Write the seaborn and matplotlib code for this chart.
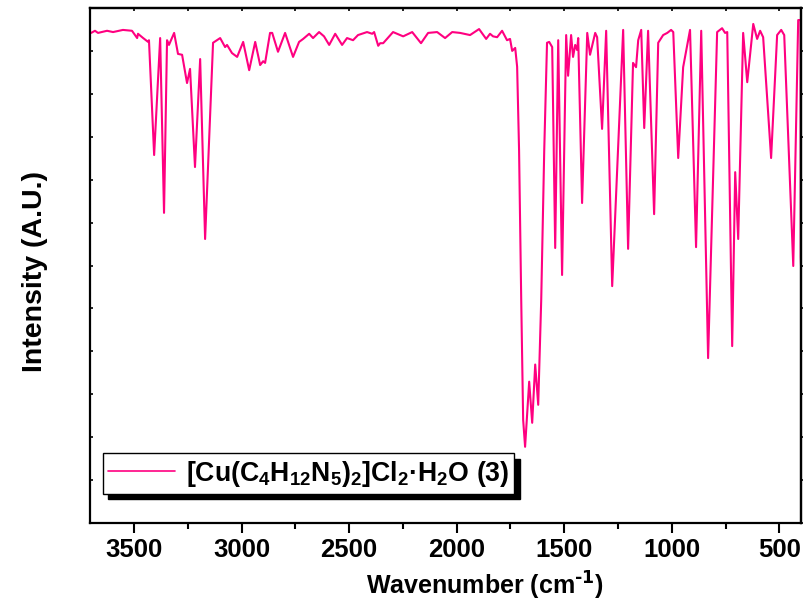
import numpy as np
import pandas as pd
import matplotlib
matplotlib.use("Agg")
import matplotlib.pyplot as plt
import seaborn as sns
from matplotlib.ticker import MultipleLocator, NullFormatter

# IR spectrum (transmittance in arbitrary units)
wavenumber = [
    3700, 3682, 3668, 3626, 3598, 3552, 3510, 3496, 3486, 3482, 3458, 3435,
    3431, 3407, 3379, 3361, 3347, 3338, 3314, 3296, 3277, 3254, 3240, 3217,
    3193, 3170, 3133, 3100, 3077, 3068, 3045, 3021, 2993, 2965, 2937, 2914,
    2900, 2891, 2868, 2858, 2831, 2798, 2761, 2733, 2714, 2686, 2668, 2640,
    2617, 2593, 2565, 2533, 2510, 2482, 2459, 2417, 2393, 2384, 2365, 2356,
    2342, 2296, 2249, 2207, 2166, 2133, 2091, 2054, 2021, 1984, 1938, 1896,
    1863, 1845, 1831, 1812, 1789, 1766, 1752, 1742, 1728, 1719, 1710, 1700,
    1691, 1682, 1663, 1649, 1635, 1621, 1607, 1593, 1580, 1570, 1556, 1542,
    1528, 1510, 1491, 1482, 1468, 1459, 1449, 1440, 1435, 1417, 1393, 1380,
    1356, 1347, 1324, 1305, 1277, 1226, 1203, 1180, 1166, 1156, 1142, 1128,
    1110, 1082, 1063, 1040, 1021, 1003, 993, 970, 947, 915, 887, 863,
    831, 789, 766, 752, 742, 719, 705, 691, 668, 649, 621, 603,
    589, 575, 538, 510, 491, 477, 435, 412, 401, 400.2, 399,
]
intensity = [
    114.3, 114.8, 114.3, 114.8, 114.5, 115.0, 114.8, 113.8, 113.1, 114.1, 113.1, 112.2,
    112.6, 85.8, 113.1, 72.3, 112.6, 111.5, 114.3, 109.4, 109.2, 102.6, 105.9, 83.0,
    108.2, 66.2, 112.0, 113.1, 111.0, 111.5, 109.6, 108.7, 112.2, 105.6, 112.2, 106.8,
    107.7, 107.3, 114.3, 114.3, 109.9, 114.3, 108.7, 112.2, 112.9, 114.1, 113.1, 114.5,
    113.5, 111.5, 114.1, 111.5, 113.1, 112.6, 113.8, 114.5, 114.1, 114.5, 111.3, 111.9,
    111.9, 114.5, 113.5, 114.5, 111.9, 114.3, 114.5, 113.1, 114.5, 114.3, 113.8, 115.2,
    112.9, 114.1, 113.5, 113.3, 114.8, 112.6, 112.9, 110.1, 110.8, 106.4, 86.9, 52.0,
    24.0, 17.7, 32.9, 23.3, 36.9, 27.5, 52.0, 86.9, 112.0, 112.2, 111.0, 64.1,
    112.6, 57.8, 113.8, 104.3, 113.8, 108.7, 111.5, 110.3, 113.1, 74.6, 114.3, 109.2,
    114.3, 113.3, 91.9, 114.8, 55.2, 115.0, 63.9, 107.3, 106.3, 112.6, 115.0, 92.1,
    114.8, 72.0, 112.0, 113.8, 114.3, 115.0, 114.5, 85.1, 106.3, 115.0, 64.3, 114.8,
    38.4, 114.5, 115.4, 114.3, 114.5, 41.2, 81.8, 66.2, 114.3, 102.8, 116.4, 112.9,
    114.8, 113.3, 85.1, 113.8, 115.0, 113.8, 59.9, 117.3, 117.3, 62.0, 60.0,
]

series_label = r"[Cu(C$_4$H$_{12}$N$_5$)$_2$]Cl$_2$·H$_2$O (3)"
x_label = r"Wavenumber (cm$^{\text{-1}}$)"
y_label = "Intensity (A.U.)"
x_ticks = [3500, 3000, 2500, 2000, 1500, 1000, 500]

LINE_COLOR = "#FF0080"

sns.set_style("ticks")
plt.rcParams["font.family"] = ["Liberation Sans", "DejaVu Sans"]
plt.rcParams["font.weight"] = "bold"
plt.rcParams["mathtext.default"] = "regular"
# seaborn greys the text; the reference is plain black
plt.rcParams["text.color"] = "black"
plt.rcParams["axes.labelcolor"] = "black"
plt.rcParams["xtick.color"] = "black"
plt.rcParams["ytick.color"] = "black"
plt.rcParams["axes.edgecolor"] = "black"

df = pd.DataFrame({"wn": wavenumber, "T": intensity})

fig = plt.figure(figsize=(8.04, 6.07), dpi=100)
ax = fig.add_axes([0.112, 0.139, 0.884, 0.847])

sns.lineplot(data=df, x="wn", y="T", color=LINE_COLOR, linewidth=1.5,
             estimator=None, sort=False, label=series_label, ax=ax)

ax.set_xlim(3705, 400)
ax.set_ylim(0, 120)

# bottom axis: labelled majors every 500, minors every 250, pointing out
ax.set_xticks(x_ticks)
ax.xaxis.set_minor_locator(MultipleLocator(250))
ax.tick_params(axis="x", which="major", direction="out", length=7, width=1.5,
               labelsize=18.5, pad=4, colors="black")
ax.tick_params(axis="x", which="minor", direction="out", length=4, width=1.5,
               colors="black")
for lab in ax.get_xticklabels():
    lab.set_fontweight("bold")

# left axis: unlabelled inward ticks
ax.yaxis.set_major_locator(MultipleLocator(10))
ax.yaxis.set_major_formatter(NullFormatter())
ax.tick_params(axis="y", which="major", direction="in", length=2.5, width=1.2,
               colors="black")

# top and right axes carry their own small ticks
top = ax.secondary_xaxis("top")
top.xaxis.set_major_locator(MultipleLocator(250))
top.tick_params(direction="in", length=2.5, width=1.2, labeltop=False,
                colors="black")
right = ax.secondary_yaxis("right")
right.yaxis.set_major_locator(MultipleLocator(10))
right.tick_params(direction="out", length=2.5, width=1.2, labelright=False,
                  colors="black")

for sp in list(ax.spines.values()) + [top.spines["top"], right.spines["right"]]:
    sp.set_linewidth(1.6)
    sp.set_color("black")

ax.set_xlabel(x_label, fontsize=18, fontweight="bold", color="black")
ax.set_ylabel(y_label, fontsize=20.5, fontweight="bold", color="black")
ax.xaxis.set_label_coords(0.556, -0.092)
ax.yaxis.set_label_coords(-0.059, 0.4875)

leg = ax.legend(loc="lower left", bbox_to_anchor=(0.018, 0.056),
                borderaxespad=0, fancybox=False, frameon=True,
                shadow={"ox": 4, "oy": -4, "facecolor": "black",
                        "edgecolor": "black", "alpha": 1},
                prop={"size": 19.2, "weight": "bold"},
                handlelength=2.5, handletextpad=0.4, borderpad=0.2)
leg.get_frame().set_edgecolor("black")
leg.get_frame().set_linewidth(1.0)
leg.get_lines()[0].set_linewidth(1.2)
for t in leg.get_texts():
    t.set_color("black")

fig.savefig("out.png", dpi=100)
